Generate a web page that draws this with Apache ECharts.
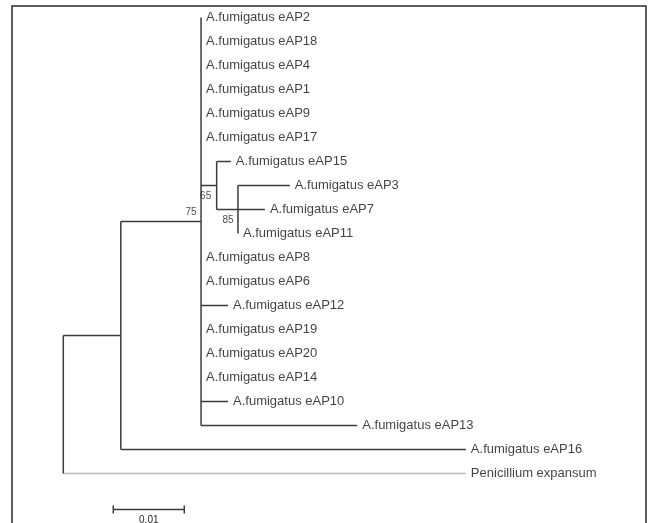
<!DOCTYPE html>
<html>
<head>
<meta charset="utf-8">
<script src="https://cdn.jsdelivr.net/npm/echarts@6/dist/echarts.min.js"></script>
<style>
  html, body { margin: 0; padding: 0; background: #fff; }
  #chart { width: 650px; height: 523px; }
</style>
</head>
<body>
<div id="chart"></div>
<script>
// leaves, top to bottom, with their parent node and branch length
const leafNames = [
  'A.fumigatus eAP2', 'A.fumigatus eAP18', 'A.fumigatus eAP4', 'A.fumigatus eAP1',
  'A.fumigatus eAP9', 'A.fumigatus eAP17', 'A.fumigatus eAP15', 'A.fumigatus eAP3',
  'A.fumigatus eAP7', 'A.fumigatus eAP11', 'A.fumigatus eAP8', 'A.fumigatus eAP6',
  'A.fumigatus eAP12', 'A.fumigatus eAP19', 'A.fumigatus eAP20', 'A.fumigatus eAP14',
  'A.fumigatus eAP10', 'A.fumigatus eAP13', 'A.fumigatus eAP16', 'Penicillium expansum'
]
const leafParent = [
  'n75', 'n75', 'n75', 'n75', 'n75', 'n75', 'n65', 'n85', 'n85', 'n85',
  'n75', 'n75', 'n75', 'n75', 'n75', 'n75', 'n75', 'n75', 'n1', 'root'
]
const leafLength = [
  0, 0, 0, 0, 0, 0, 0.0020, 0.0073, 0.0038, 0,
  0, 0, 0.0038, 0, 0, 0, 0.0038, 0.0220, 0.0486, 0.0567
]

// internal nodes
const nodeNames = ['root', 'n1', 'n75', 'n65', 'n85']
const nodeParent = [null, 'root', 'n1', 'n75', 'n65']
const nodeLength = [0, 0.0081, 0.0113, 0.0022, 0.0030]
const bootstrap = [null, null, 75, 65, 85]

const scaleBarLength = 0.01
const scaleBarLabel = '0.01'

// ---- build tree geometry (depth = distance from root, row = leaf order) ----
const depth = {}
const row = {}
const children = {}
nodeNames.forEach((n) => { children[n] = [] })
leafNames.forEach((n, i) => children[leafParent[i]].push(n))
nodeNames.forEach((n, i) => { if (nodeParent[i]) children[nodeParent[i]].push(n) })

const parentOf = {}
const lenOf = {}
leafNames.forEach((n, i) => { parentOf[n] = leafParent[i]; lenOf[n] = leafLength[i] })
nodeNames.forEach((n, i) => { parentOf[n] = nodeParent[i]; lenOf[n] = nodeLength[i] })

function getDepth(n) {
  if (depth[n] !== undefined) return depth[n]
  depth[n] = parentOf[n] ? getDepth(parentOf[n]) + lenOf[n] : 0
  return depth[n]
}
leafNames.forEach((n, i) => { row[n] = i })
function getRow(n) {
  if (row[n] !== undefined) return row[n]
  const rs = children[n].map(getRow)
  row[n] = (Math.min(...rs) + Math.max(...rs)) / 2
  return row[n]
}
nodeNames.forEach(getRow)
leafNames.concat(nodeNames).forEach(getDepth)

// segments: [x1, y1, x2, y2, kind]  kind 0 = dark, 1 = light (outgroup)
const segments = []
leafNames.concat(nodeNames).forEach((n) => {
  const p = parentOf[n]
  if (!p) return
  if (lenOf[n] > 0) {
    const kind = n === 'Penicillium expansum' ? 1 : 0
    segments.push([depth[p], row[n], depth[n], row[n], kind])
  }
})
nodeNames.forEach((n) => {
  const rs = children[n].map((c) => row[c])
  segments.push([depth[n], Math.min(...rs), depth[n], Math.max(...rs), 0])
})

const bootOffset = { n75: [-10, -9], n65: [-11, 11], n85: [-10, 11] }

const labelFont = { fontFamily: '"Liberation Sans", Arial, sans-serif', fontSize: 13, color: '#111' }

const option = {
  animation: false,
  backgroundColor: '#fff',
  graphic: [
    {
      type: 'rect',
      shape: { x: 12, y: 6, width: 634, height: 530 },
      style: { fill: 'none', stroke: '#2a2a2a', lineWidth: 1.5 },
      silent: true,
    },
  ],
  grid: { left: 63.3, top: 17.5, width: 568, height: 504 },
  xAxis: { type: 'value', min: 0, max: 0.08, show: false },
  yAxis: { type: 'value', min: 0, max: 21, inverse: true, show: false },
  series: [
    {
      type: 'custom',
      clip: false,
      data: segments,
      renderItem: (params, api) => {
        const a = api.coord([api.value(0), api.value(1)])
        const b = api.coord([api.value(2), api.value(3)])
        return {
          type: 'line',
          shape: { x1: a[0], y1: a[1], x2: b[0], y2: b[1] },
          style: { stroke: api.value(4) === 1 ? '#bdbdbd' : '#3a3a3a', lineWidth: 1.5 },
        }
      },
    },
    {
      type: 'scatter',
      symbolSize: 0,
      data: leafNames.map((n) => ({ name: n, value: [depth[n], row[n]] })),
      label: {
        show: true,
        position: 'right',
        distance: 5,
        formatter: (p) => p.name,
        ...labelFont,
      },
    },
    {
      type: 'scatter',
      symbolSize: 0,
      data: nodeNames
        .map((n, i) => ({ n, b: bootstrap[i] }))
        .filter((d) => d.b !== null)
        .map((d) => ({
          name: String(d.b),
          value: [depth[d.n], row[d.n]],
          label: { offset: bootOffset[d.n] },
        })),
      label: {
        show: true,
        position: 'inside',
        formatter: (p) => p.name,
        fontFamily: '"Liberation Sans", Arial, sans-serif',
        fontSize: 10,
        color: '#222',
      },
    },
    {
      type: 'custom',
      clip: false,
      data: [[0.00704, 20.5, scaleBarLength]],
      renderItem: (params, api) => {
        const a = api.coord([api.value(0), api.value(1)])
        const b = api.coord([api.value(0) + api.value(2), api.value(1)])
        const stroke = { stroke: '#3a3a3a', lineWidth: 1.5 }
        return {
          type: 'group',
          children: [
            { type: 'line', shape: { x1: a[0], y1: a[1], x2: b[0], y2: b[1] }, style: stroke },
            { type: 'line', shape: { x1: a[0], y1: a[1] - 4, x2: a[0], y2: a[1] + 4 }, style: stroke },
            { type: 'line', shape: { x1: b[0], y1: b[1] - 4, x2: b[0], y2: b[1] + 4 }, style: stroke },
            {
              type: 'text',
              style: {
                text: scaleBarLabel,
                x: (a[0] + b[0]) / 2,
                y: a[1] + 11,
                align: 'center',
                verticalAlign: 'middle',
                font: '10px "Liberation Sans", Arial, sans-serif',
                fill: '#222',
              },
            },
          ],
        }
      },
    },
  ],
}

const chart = echarts.init(document.getElementById('chart'), undefined, { renderer: 'canvas' })
chart.setOption(option)
</script>
</body>
</html>
